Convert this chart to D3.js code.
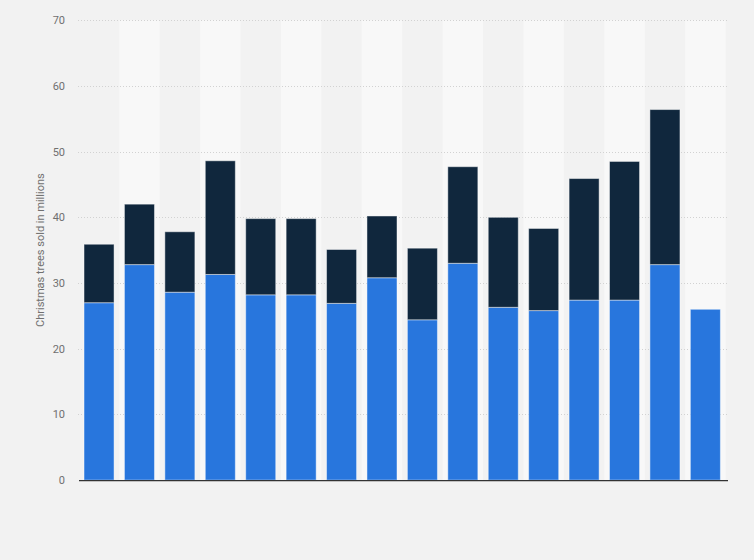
<!DOCTYPE html>
<html><head><meta charset="utf-8">
<script src="https://cdn.jsdelivr.net/npm/d3@7"></script>
<style>html,body{margin:0;padding:0;background:#f2f2f2;}svg{display:block;font-family:Roboto,"Open Sans",Arial,sans-serif;}</style>
</head><body>
<script>
const years = ["2004","2005","2006","2007","2008","2009","2010","2011","2012","2013","2014","2015","2016","2017","2018","2019"];
const realTrees = [27.0,32.8,28.6,31.3,28.2,28.2,26.9,30.8,24.4,33.0,26.3,25.8,27.4,27.4,32.8,26.0];
const fakeTrees = [8.9,9.2,9.2,17.3,11.6,11.6,8.2,9.4,10.9,14.7,13.7,12.5,18.5,21.1,23.6,0];
const yTicks = [0,10,20,30,40,50,60,70];
const yLabel = "Christmas trees sold in millions";

const W = 754, H = 560;
const m = {left: 79, top: 20.2, bottom: 79.9};
const plotRight = 728;
const svg = d3.select("body").append("svg").attr("width", W).attr("height", H);
svg.append("rect").attr("width", W).attr("height", H).attr("fill", "#f2f2f2");

const x = d3.scaleBand().domain(years).range([m.left, m.left + 16 * 40.4]).paddingInner(0.257).paddingOuter(0.124);
const y = d3.scaleLinear().domain([0, 70]).range([H - m.bottom, m.top]);

// alternating column bands
const step = x.step();
svg.append("g").selectAll("rect").data(years.filter((d,i)=>i%2===1)).join("rect")
  .attr("x", d => x(d) - x.paddingInner()*step/2)
  .attr("width", step)
  .attr("y", m.top)
  .attr("height", y(0) - m.top)
  .attr("fill", "#f8f8f8");

// grid
svg.append("g").selectAll("line").data(yTicks.filter(t=>t>0)).join("line")
  .attr("x1", m.left - 1).attr("x2", plotRight)
  .attr("y1", d => Math.round(y(d)) + 0.5).attr("y2", d => Math.round(y(d)) + 0.5)
  .attr("stroke", "#d2d2d2").attr("stroke-width", 1).attr("stroke-dasharray", "1,2");

// tick labels
const yAxis = d3.axisLeft(y).tickValues(yTicks).tickSize(0).tickPadding(0);
const ga = svg.append("g").attr("transform", `translate(${m.left - 14},0)`).call(yAxis);
ga.select(".domain").remove();
ga.selectAll("text").attr("fill", "#707070").attr("font-size", 11).attr("font-family", "Roboto, Arial, sans-serif");

// y label
svg.append("text").attr("transform", `translate(44,${(y(0)+y(70))/2}) rotate(-90)`)
  .attr("text-anchor", "middle").attr("fill", "#707070").attr("font-size", 11).text(yLabel);

// stacked bars
const rows = years.map((yr,i)=>({year: yr, real: realTrees[i], fake: fakeTrees[i]}));
const stack = d3.stack().keys(["real","fake"])(rows);
const colors = {real: "#2876dd", fake: "#10273d"};
svg.append("g").selectAll("g").data(stack).join("g")
  .attr("fill", d => colors[d.key])
  .selectAll("rect").data(d => d.filter(s => s[1] - s[0] > 0)).join("rect")
  .attr("x", d => x(d.data.year))
  .attr("width", x.bandwidth())
  .attr("y", d => y(d[1]))
  .attr("height", d => y(d[0]) - y(d[1]))
  .attr("stroke", "rgba(255,255,255,0.45)").attr("stroke-width", 1);

// baseline
svg.append("line").attr("x1", m.left).attr("x2", plotRight)
  .attr("y1", y(0) + 0.5).attr("y2", y(0) + 0.5)
  .attr("stroke", "#333").attr("stroke-width", 1.2);
</script>
</body></html>
